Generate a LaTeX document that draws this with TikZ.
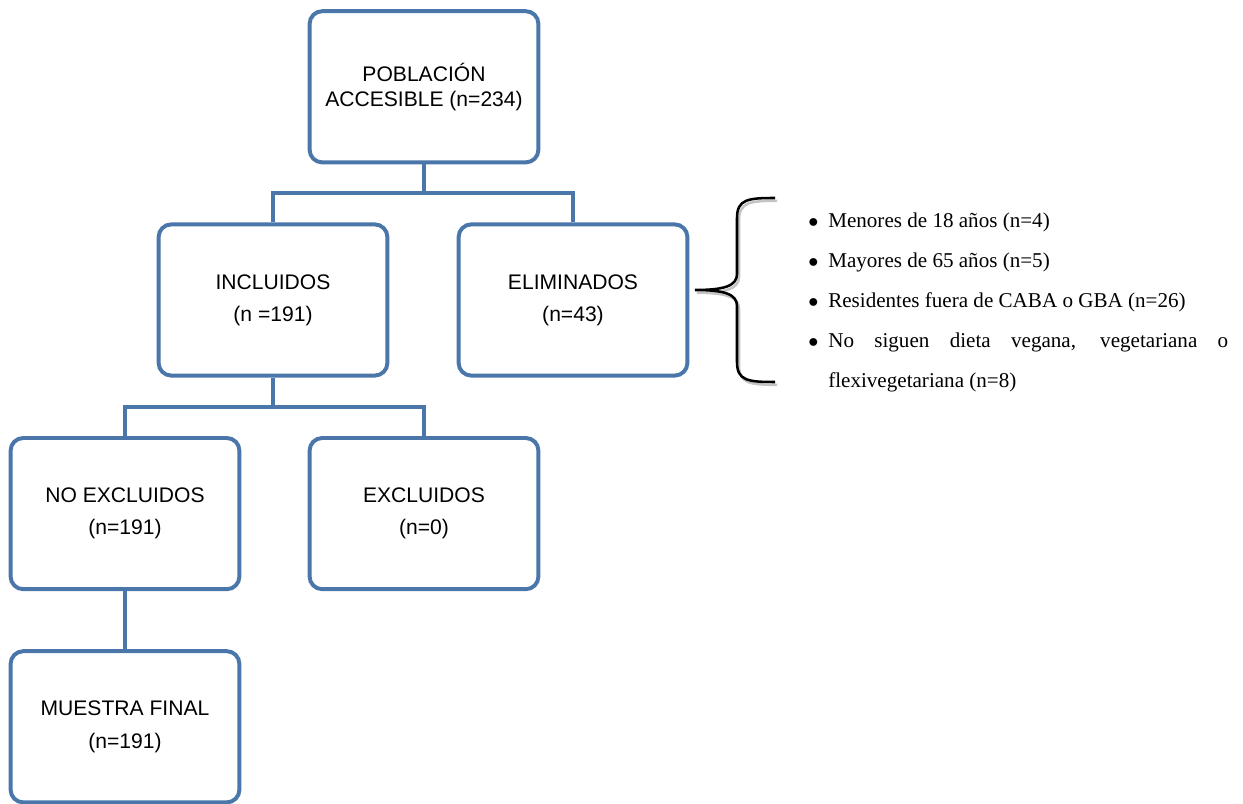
\documentclass[tikz,border=0pt]{standalone}
\usepackage{fontspec}
\setmainfont{Liberation Serif}
\newfontfamily\arialfont{Liberation Sans}
\usepackage{xcolor}
\usepackage{tikz}
\definecolor{boxblue}{HTML}{4A76AA}
\definecolor{braceshadow}{HTML}{C4C4C4}

\begin{document}
\begin{tikzpicture}[
  box/.style={rectangle,draw=boxblue,line width=2.8pt,rounded corners=9pt,
    minimum width=5.72cm,minimum height=3.78cm,
    align=center,font=\arialfont\fontsize{15}{18}\selectfont},
  conn/.style={draw=boxblue,line width=3.4pt},
  item/.style={anchor=base west,inner sep=0pt,font=\fontsize{15}{18}\selectfont}]

  \useasboundingbox (0,0) rectangle (31.075,-20.1);

  \node[box] (pob) at (10.6,-2.17) {POBLACIÓN\\ACCESIBLE (n=234)};
  \node[box] (inc) at (6.825,-7.5) {INCLUIDOS\\[5pt](n =191)};
  \node[box] (eli) at (14.325,-7.5) {ELIMINADOS\\[5pt](n=43)};
  \node[box] (noex) at (3.125,-12.84) {NO EXCLUIDOS\\[5pt](n=191)};
  \node[box] (excl) at (10.6,-12.84) {EXCLUIDOS\\[5pt](n=0)};
  \node[box] (mues) at (3.125,-18.17) {MUESTRA FINAL\\[5pt](n=191)};

  \coordinate (j1) at (10.6,-4.825);
  \coordinate (j2) at (6.825,-10.175);

  \draw[conn] (pob.south) -- (j1);
  \draw[conn] (inc.north) |- (j1) -| (eli.north);
  \draw[conn] (inc.south) -- (j2);
  \draw[conn] (noex.north) |- (j2) -| (excl.north);
  \draw[conn] (noex.south) -- (mues.north);

  % llave
  \foreach \col/\dx/\dy in {braceshadow/0.05/-0.07,black/0/0}
    \draw[\col,line width=1.8pt,shift={(\dx,\dy)}]
      (19.375,-4.95) .. controls (18.7,-4.95) and (18.425,-4.98) .. (18.425,-5.45)
      -- (18.425,-6.85) .. controls (18.425,-7.15) and (18.1,-7.25) .. (17.375,-7.25)
      .. controls (18.1,-7.25) and (18.425,-7.35) .. (18.425,-7.65)
      -- (18.425,-9.05) .. controls (18.425,-9.52) and (18.7,-9.55) .. (19.375,-9.55);

  \node[item] (it1) at (20.7,-5.7) {\llap{$\bullet$\hspace{7pt}}Menores de 18 años (n=4)};
  \node[item] (it2) at (20.7,-6.7) {\llap{$\bullet$\hspace{7pt}}Mayores de 65 años (n=5)};
  \node[item] (it3) at (20.7,-7.7) {\llap{$\bullet$\hspace{7pt}}Residentes fuera de CABA o GBA (n=26)};
  \node[item] (it4) at (20.7,-8.7) {\llap{$\bullet$\hspace{7pt}}\makebox[284.5pt][s]{No siguen dieta vegana, vegetariana o}};
  \node[item] (it5) at (20.7,-9.7) {flexivegetariana (n=8)};
\end{tikzpicture}
\end{document}
